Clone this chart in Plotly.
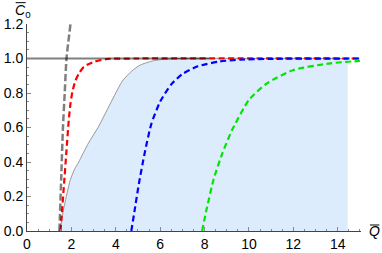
import plotly.graph_objects as go

# ---- data ----
bound_q = [1.50, 1.56, 1.64, 1.77, 1.96, 2.15, 2.33, 2.77, 3.20, 3.84, 4.30, 4.70, 5.10, 5.70, 6.30, 7.00, 14.45]
bound_c = [0.00, 0.06, 0.12, 0.20, 0.30, 0.36, 0.40, 0.51, 0.60, 0.76, 0.87, 0.925, 0.962, 0.987, 0.997, 1.00, 1.00]

red_q = [1.51, 1.55, 1.66, 1.77, 1.88, 1.96, 2.05, 2.18, 2.35, 2.56, 3.00, 3.60, 5.0, 15.0]
red_c = [0.00, 0.064, 0.257, 0.45, 0.64, 0.74, 0.81, 0.87, 0.915, 0.952, 0.980, 0.997, 1.0, 1.0]

blue_q = [4.70, 4.85, 5.05, 5.30, 5.60, 6.00, 6.50, 7.00, 7.70, 8.70, 9.60, 11.0, 15.0]
blue_c = [0.00, 0.12, 0.28, 0.45, 0.62, 0.75, 0.85, 0.91, 0.955, 0.983, 0.993, 0.998, 1.0]

green_q = [7.89, 8.10, 8.41, 8.80, 9.24, 10.0, 10.8, 12.0, 13.67, 15.0]
green_c = [0.00, 0.13, 0.30, 0.45, 0.585, 0.76, 0.855, 0.933, 0.972, 0.986]

gray_q = [1.46, 1.54, 1.62, 1.70, 1.78, 1.96]
gray_c = [0.0, 0.3, 0.6, 0.8, 1.0, 1.2]

hline_q = [0.0, 8.2]
hline_c = [1.0, 1.0]

x_ticks = [0, 2, 4, 6, 8, 10, 12, 14]
y_ticks = [0.0, 0.2, 0.4, 0.6, 0.8, 1.0, 1.2]

DASH = "6px,3.5px"
fig = go.Figure()
fig.add_trace(go.Scatter(x=bound_q, y=bound_c, mode="lines", fill="tozeroy",
                         fillcolor="rgb(221,236,252)",
                         line=dict(color="rgb(140,140,140)", width=0.9, shape="spline", smoothing=0.6)))
fig.add_trace(go.Scatter(x=red_q, y=red_c, mode="lines",
                         line=dict(color="rgb(255,0,0)", width=2.2, dash=DASH, shape="spline", smoothing=0.6)))
fig.add_trace(go.Scatter(x=blue_q, y=blue_c, mode="lines",
                         line=dict(color="rgb(0,0,255)", width=2.2, dash=DASH, shape="spline", smoothing=0.6)))
fig.add_trace(go.Scatter(x=green_q, y=green_c, mode="lines",
                         line=dict(color="rgb(0,230,0)", width=2.2, dash=DASH, shape="spline", smoothing=0.6)))
fig.add_trace(go.Scatter(x=hline_q, y=hline_c, mode="lines",
                         line=dict(color="rgba(0,0,0,0.5)", width=2)))
fig.add_trace(go.Scatter(x=gray_q, y=gray_c, mode="lines",
                         line=dict(color="rgba(0,0,0,0.5)", width=2.5, dash="7px,3px", shape="spline", smoothing=0.6)))

fig.update_layout(
    width=382, height=253,
    margin=dict(l=27, r=21, t=24, b=22, autoexpand=False),
    paper_bgcolor="white", plot_bgcolor="white",
    showlegend=False,
    font=dict(family="Liberation Sans, Arial, sans-serif", size=14, color="black"),
)
fig.update_xaxes(range=[0, 15.05], tickvals=x_ticks, ticktext=[str(v) for v in x_ticks],
                 automargin=False,
                 showgrid=False, zeroline=False, showline=True, linecolor="#444", linewidth=1,
                 ticks="inside", ticklen=4, tickcolor="#888", tickwidth=1,
                 minor=dict(dtick=0.5, ticks="inside", ticklen=2, tickcolor="#888", showgrid=False))
fig.update_yaxes(range=[0, 1.2], tickvals=y_ticks, ticktext=[f"{v:.1f}" for v in y_ticks],
                 automargin=False,
                 showgrid=False, zeroline=False, showline=True, linecolor="#444", linewidth=1,
                 ticks="inside", ticklen=4, tickcolor="#888", tickwidth=1,
                 minor=dict(dtick=0.05, ticks="inside", ticklen=2, tickcolor="#888", showgrid=False))

# axis labels
fig.add_annotation(xref="paper", yref="paper", x=-0.012, y=1.065, text="<i>C</i><sub>0</sub>",
                   showarrow=False, font=dict(size=14), xanchor="center", yanchor="middle")
fig.add_annotation(xref="paper", yref="paper", x=1.04, y=0.0, text="<i>Q</i>",
                   showarrow=False, font=dict(size=14), xanchor="center", yanchor="middle")
fig.add_shape(type="line", xref="paper", yref="paper", x0=-0.034, x1=-0.004, y0=1.103, y1=1.103,
              line=dict(color="black", width=1))
fig.add_shape(type="line", xref="paper", yref="paper", x0=1.027, x1=1.055, y0=0.029, y1=0.029,
              line=dict(color="black", width=1))

fig.write_html("out.html", config={"displayModeBar": False},
               post_script="document.body.style.margin='0';")
